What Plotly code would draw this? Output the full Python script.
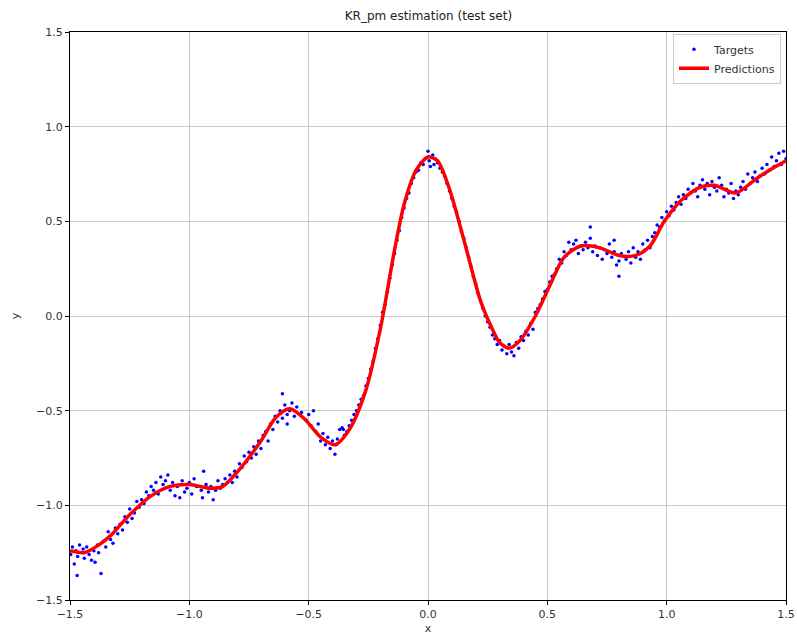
import plotly.graph_objects as go

# Prediction curve
pred_x = [-1.5, -1.44, -1.38, -1.33, -1.25, -1.16, -1.08, -1.0, -0.91, -0.86, -0.79, -0.70, -0.64,
          -0.58, -0.52, -0.45, -0.39, -0.33, -0.26, -0.20, -0.14, -0.10, -0.05, 0.0, 0.04, 0.09,
          0.155, 0.22, 0.27, 0.30, 0.34, 0.385, 0.45, 0.51, 0.57, 0.64, 0.72, 0.80, 0.87, 0.93,
          0.99, 1.06, 1.14, 1.20, 1.29, 1.37, 1.43, 1.5]
pred_y = [-1.24, -1.25, -1.21, -1.16, -1.05, -0.95, -0.90, -0.89, -0.91, -0.90, -0.81, -0.66, -0.54,
          -0.49, -0.54, -0.64, -0.68, -0.60, -0.39, -0.07, 0.35, 0.59, 0.77, 0.84, 0.82, 0.67,
          0.38, 0.08, -0.07, -0.14, -0.17, -0.13, 0.0, 0.16, 0.31, 0.37, 0.36, 0.32, 0.32, 0.37,
          0.50, 0.61, 0.68, 0.69, 0.65, 0.72, 0.77, 0.82]

# Targets
target_x = [-1.497, -1.49, -1.482, -1.475, -1.468, -1.46, -1.47, -1.445, -1.44, -1.43, -1.42, -1.41,
            -1.40, -1.395, -1.385, -1.38, -1.37, -1.36, -1.35, -1.34, -1.33, -1.32, -1.31, -1.30,
            -1.29, -1.28, -1.27, -1.26, -1.25, -1.24, -1.23, -1.22, -1.21, -1.20, -1.19, -1.18,
            -1.17, -1.16, -1.15, -1.14, -1.13, -1.12, -1.11, -1.10, -1.09, -1.08, -1.07, -1.06,
            -1.05, -1.04, -1.03, -1.02, -1.01, -1.0, -0.99, -0.98, -0.97, -0.94, -0.95, -0.945,
            -0.93, -0.92, -0.91, -0.90, -0.89, -0.88, -0.87, -0.86, -0.85, -0.84, -0.83, -0.82,
            -0.81, -0.80, -0.79, -0.78, -0.77, -0.76, -0.75, -0.74, -0.73, -0.72, -0.71, -0.70,
            -0.69, -0.68, -0.67, -0.66, -0.65, -0.64, -0.63, -0.62, -0.61, -0.60, -0.59, -0.58,
            -0.57, -0.56, -0.55, -0.59, -0.53, -0.61, -0.51, -0.50, -0.49, -0.48, -0.47, -0.46,
            -0.45, -0.44, -0.43, -0.42, -0.41, -0.40, -0.39, -0.385, -0.38, -0.37, -0.36, -0.355,
            -0.35, -0.34, -0.33, -0.32, -0.31, -0.30, -0.29, -0.28, -0.27, -0.26, -0.25, -0.24,
            -0.23, -0.22, -0.21, -0.20, -0.19, -0.18, -0.17, -0.16, -0.15, -0.14, -0.13, -0.12,
            -0.11, -0.10, -0.09, -0.08, -0.07, -0.06, -0.05, -0.04, -0.03, -0.02, -0.01, 0.0,
            0.005, 0.01, 0.02, 0.025, 0.03, 0.04, 0.05, 0.06, 0.07, 0.08, 0.09, 0.10, 0.11, 0.12,
            0.13, 0.14, 0.15, 0.16, 0.17, 0.18, 0.19, 0.20, 0.21, 0.22, 0.23, 0.24, 0.25, 0.26,
            0.27, 0.28, 0.29, 0.30, 0.31, 0.32, 0.33, 0.34, 0.35, 0.36, 0.37, 0.38, 0.39, 0.40,
            0.41, 0.42, 0.43, 0.44, 0.45, 0.46, 0.47, 0.48, 0.49, 0.50, 0.51, 0.52, 0.53, 0.54,
            0.55, 0.56, 0.57, 0.58, 0.59, 0.60, 0.61, 0.62, 0.63, 0.64, 0.65, 0.66, 0.67, 0.68,
            0.69, 0.70, 0.71, 0.72, 0.73, 0.74, 0.75, 0.76, 0.77, 0.78, 0.79, 0.80, 0.81, 0.80,
            0.83, 0.84, 0.85, 0.86, 0.87, 0.88, 0.89, 0.90, 0.91, 0.92, 0.93, 0.94, 0.95, 0.96,
            0.97, 0.98, 0.99, 1.00, 1.01, 1.02, 1.03, 1.04, 1.05, 1.06, 1.07, 1.08, 1.09, 1.10,
            1.11, 1.12, 1.13, 1.14, 1.15, 1.16, 1.17, 1.18, 1.19, 1.20, 1.21, 1.22, 1.23, 1.24,
            1.25, 1.26, 1.27, 1.28, 1.29, 1.30, 1.31, 1.32, 1.33, 1.34, 1.35, 1.36, 1.37, 1.38,
            1.39, 1.40, 1.41, 1.42, 1.43, 1.44, 1.45, 1.46, 1.47, 1.48, 1.49, 1.50, 0.68, 0.78]
target_y = [-1.26, -1.22, -1.31, -1.24, -1.27, -1.21, -1.37, -1.23, -1.28, -1.22, -1.26, -1.29,
            -1.24, -1.30, -1.21, -1.25, -1.36, -1.19, -1.22, -1.14, -1.18, -1.20, -1.12, -1.15,
            -1.10, -1.13, -1.06, -1.09, -1.02, -1.07, -1.04, -0.98, -1.01, -0.97, -0.99, -0.93,
            -0.95, -0.90, -0.92, -0.88, -0.94, -0.85, -0.89, -0.87, -0.84, -0.92, -0.88, -0.95,
            -0.90, -0.96, -0.87, -0.93, -0.91, -0.88, -0.94, -0.86, -0.90, -0.82, -0.92, -0.96,
            -0.89, -0.93, -0.90, -0.97, -0.92, -0.87, -0.91, -0.89, -0.86, -0.88, -0.84, -0.88,
            -0.82, -0.85, -0.78, -0.80, -0.74, -0.77, -0.72, -0.75, -0.69, -0.73, -0.66, -0.70,
            -0.63, -0.61, -0.66, -0.57, -0.60, -0.53, -0.56, -0.50, -0.54, -0.47, -0.52, -0.50,
            -0.46, -0.53, -0.48, -0.57, -0.51, -0.41, -0.55, -0.52, -0.58, -0.50, -0.61, -0.57,
            -0.66, -0.62, -0.68, -0.64, -0.70, -0.66, -0.73, -0.68, -0.65, -0.60, -0.59, -0.60,
            -0.63, -0.61, -0.58, -0.55, -0.52, -0.50, -0.47, -0.44, -0.42, -0.37, -0.33, -0.28,
            -0.24, -0.17, -0.12, -0.05, 0.02, 0.06, 0.13, 0.20, 0.27, 0.33, 0.40, 0.45,
            0.52, 0.57, 0.62, 0.65, 0.70, 0.73, 0.76, 0.77, 0.81, 0.80, 0.83, 0.87,
            0.82, 0.79, 0.85, 0.80, 0.83, 0.81, 0.78, 0.76, 0.74, 0.70, 0.66, 0.62, 0.58, 0.55,
            0.50, 0.45, 0.41, 0.36, 0.31, 0.26, 0.21, 0.17, 0.12, 0.08, 0.04, 0.00, -0.03, -0.06,
            -0.10, -0.12, -0.15, -0.13, -0.18, -0.16, -0.20, -0.15, -0.19, -0.21, -0.14, -0.17,
            -0.11, -0.13, -0.08, -0.10, -0.04, -0.07, 0.02, 0.04, 0.06, 0.09, 0.13, 0.14, 0.18,
            0.21, 0.22, 0.25, 0.30, 0.28, 0.34, 0.32, 0.39, 0.35, 0.38, 0.40, 0.33, 0.37, 0.35,
            0.39, 0.36, 0.41, 0.34, 0.37, 0.32, 0.36, 0.30, 0.35, 0.33, 0.38, 0.31, 0.34, 0.27,
            0.29, 0.33, 0.21, 0.30, 0.34, 0.28, 0.36, 0.31, 0.34, 0.30, 0.38, 0.35, 0.40, 0.36,
            0.42, 0.44, 0.48, 0.47, 0.52, 0.50, 0.55, 0.53, 0.58, 0.56, 0.60, 0.63, 0.59, 0.64,
            0.62, 0.67, 0.65, 0.70, 0.66, 0.63, 0.69, 0.72, 0.67, 0.70, 0.64, 0.71, 0.68, 0.66,
            0.73, 0.69, 0.63, 0.67, 0.65, 0.70, 0.62, 0.66, 0.64, 0.68, 0.71, 0.67, 0.75, 0.70,
            0.73, 0.76, 0.71, 0.74, 0.78, 0.75, 0.80, 0.77, 0.84, 0.79, 0.82, 0.86, 0.80, 0.87,
            0.83, 0.47, 0.40]

x_ticks = [-1.5, -1.0, -0.5, 0.0, 0.5, 1.0, 1.5]
y_ticks = [-1.5, -1.0, -0.5, 0.0, 0.5, 1.0, 1.5]
tick_text = ["\u22121.5", "\u22121.0", "\u22120.5", "0.0", "0.5", "1.0", "1.5"]

fig = go.Figure()
fig.add_trace(go.Scatter(x=target_x, y=target_y, mode="markers", name="Targets",
                         marker=dict(color="#0000ff", size=3.5, line=dict(width=0))))
fig.add_trace(go.Scatter(x=pred_x, y=pred_y, mode="lines", name="Predictions",
                         line=dict(color="#ff0000", width=3.5, shape="spline", smoothing=0.8)))

axis_common = dict(showline=True, linecolor="#000000", linewidth=1, mirror=True,
                   showgrid=True, gridcolor="#c8c8c8", gridwidth=1, zeroline=False,
                   ticks="outside", ticklen=4, tickcolor="#000000", automargin=False,
                   tickfont=dict(family="DejaVu Sans", size=11, color="#333333"))

fig.update_layout(
    width=797, height=640,
    margin=dict(l=70, r=11, t=32, b=40),
    paper_bgcolor="white", plot_bgcolor="white",
    title=dict(text="KR_pm estimation (test set)", x=0.5375, xanchor="center", y=0.976, yanchor="middle",
               font=dict(family="DejaVu Sans", size=12, color="#222222")),
    xaxis=dict(range=[-1.5, 1.5], tickvals=x_ticks, ticktext=tick_text,
               title=dict(text="x", standoff=4, font=dict(family="DejaVu Sans", size=11, color="#333333")),
               **axis_common),
    yaxis=dict(range=[-1.5, 1.5], tickvals=y_ticks, ticktext=tick_text,
               title=dict(text="y", standoff=14, font=dict(family="DejaVu Sans", size=11, color="#333333")),
               **axis_common),
    legend=dict(x=0.993, y=0.997, xanchor="right", yanchor="top",
                bgcolor="rgba(255,255,255,0.85)", bordercolor="#cccccc", borderwidth=1,
                font=dict(family="DejaVu Sans", size=11, color="#333333"),
                itemwidth=30, tracegroupgap=2),
    showlegend=True,
)

fig.write_html("out.html")
